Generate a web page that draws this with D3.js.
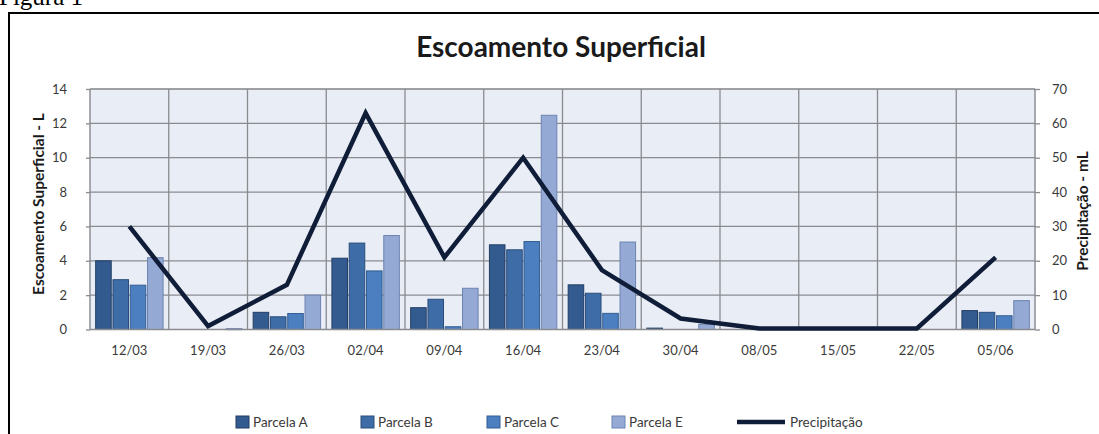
<!DOCTYPE html>
<html>
<head>
<meta charset="utf-8">
<script src="https://cdn.jsdelivr.net/npm/d3@7/dist/d3.min.js"></script>
<style>
  html, body { margin: 0; padding: 0; background: #fff; }
  svg { display: block; }
</style>
</head>
<body>
<div id="chart"></div>
<script>
  "use strict";

  var categories = ["12/03", "19/03", "26/03", "02/04", "09/04", "16/04", "23/04", "30/04", "08/05", "15/05", "22/05", "05/06"];
  var parcelaA = [4.0, 0, 1.0, 4.15, 1.27, 4.93, 2.6, 0.08, 0, 0, 0, 1.1];
  var parcelaB = [2.9, 0, 0.74, 5.03, 1.76, 4.64, 2.11, 0, 0, 0, 0, 1.0];
  var parcelaC = [2.58, 0, 0.93, 3.41, 0.16, 5.12, 0.94, 0, 0, 0, 0, 0.8];
  var parcelaE = [4.18, 0.05, 2.0, 5.47, 2.4, 12.47, 5.09, 0.3, 0, 0, 0, 1.68];
  var precipitacao = [30, 1, 13, 63, 21, 50, 17.3, 3.2, 0.3, 0.3, 0.3, 21];
  var leftTicks = [0, 2, 4, 6, 8, 10, 12, 14];
  var rightTicks = [0, 10, 20, 30, 40, 50, 60, 70];
  var seriesNames = ["Parcela A", "Parcela B", "Parcela C", "Parcela E"];
  var lineName = "Precipitação";

  var W = 1099, H = 434;
  var plot = { left: 90, right: 1035, top: 89, bottom: 329.5 };
  var FONT = "Lato, 'Open Sans', sans-serif";

  var colors = {
    "Parcela A": { fill: "#335b8f", stroke: "#223d63" },
    "Parcela B": { fill: "#3e6ca6", stroke: "#2a4d7c" },
    "Parcela C": { fill: "#4b7fc0", stroke: "#335d92" },
    "Parcela E": { fill: "#94aad5", stroke: "#6c83b2" }
  };
  var lineColor = "#101d38";

  var series = [parcelaA, parcelaB, parcelaC, parcelaE];

  var svg = d3.select("#chart").append("svg")
    .attr("width", W)
    .attr("height", H);

  // "Figura 1" caption, cut off at the top like the scan
  svg.append("text")
    .attr("x", -1)
    .attr("y", 5)
    .attr("font-family", "'Liberation Serif', serif")
    .attr("font-size", "25px")
    .attr("fill", "#000")
    .text("Figura 1");

  // outer frame
  svg.append("rect")
    .attr("x", 9)
    .attr("y", 13)
    .attr("width", W + 20)
    .attr("height", H + 20)
    .attr("fill", "none")
    .attr("stroke", "#000")
    .attr("stroke-width", 2);

  var x = d3.scaleBand()
    .domain(categories)
    .range([plot.left, plot.right])
    .paddingInner(0.1)
    .paddingOuter(0.05);

  var xInner = d3.scaleBand()
    .domain(seriesNames)
    .range([0, x.bandwidth()])
    .padding(0.1);

  var xCat = d3.scaleBand()
    .domain(categories)
    .range([plot.left, plot.right]);

  var yLeft = d3.scaleLinear().domain([0, 14]).range([plot.bottom, plot.top]);
  var yRight = d3.scaleLinear().domain([0, 70]).range([plot.bottom, plot.top]);

  // plot background
  svg.append("rect")
    .attr("x", plot.left)
    .attr("y", plot.top)
    .attr("width", plot.right - plot.left)
    .attr("height", plot.bottom - plot.top)
    .attr("fill", "#e9edf5")
    .attr("stroke", "#c6c9cf")
    .attr("stroke-width", 1);

  // horizontal grid
  svg.append("g")
    .selectAll("line")
    .data(leftTicks.slice(1))
    .enter().append("line")
    .attr("x1", plot.left)
    .attr("x2", plot.right)
    .attr("y1", function (d) { return yLeft(d); })
    .attr("y2", function (d) { return yLeft(d); })
    .attr("stroke", "#8a8b8f")
    .attr("stroke-width", 1.3);

  // vertical grid at category boundaries
  svg.append("g")
    .selectAll("line")
    .data(categories.slice(1).concat(["end"]))
    .enter().append("line")
    .attr("x1", function (d) { return d === "end" ? plot.right : xCat(d); })
    .attr("x2", function (d) { return d === "end" ? plot.right : xCat(d); })
    .attr("y1", plot.top)
    .attr("y2", plot.bottom)
    .attr("stroke", "#8a8b8f")
    .attr("stroke-width", 1.3);

  // bars
  var groups = svg.append("g")
    .selectAll("g")
    .data(categories)
    .enter().append("g")
    .attr("transform", function (d) { return "translate(" + x(d) + ",0)"; });

  groups.selectAll("rect")
    .data(function (d, i) {
      return seriesNames.map(function (name, s) { return { name: name, value: series[s][i] }; });
    })
    .enter().append("rect")
    .filter(function (d) { return d.value > 0; })
    .attr("x", function (d) { return xInner(d.name); })
    .attr("y", function (d) { return yLeft(d.value); })
    .attr("width", xInner.bandwidth())
    .attr("height", function (d) { return Math.max(1, yLeft(0) - yLeft(d.value)); })
    .attr("fill", function (d) { return colors[d.name].fill; })
    .attr("stroke", function (d) { return colors[d.name].stroke; })
    .attr("stroke-width", 1);

  // axis lines
  svg.append("line")
    .attr("x1", plot.left).attr("x2", plot.left)
    .attr("y1", plot.top).attr("y2", plot.bottom)
    .attr("stroke", "#8a8b8f").attr("stroke-width", 1.3);
  svg.append("line")
    .attr("x1", plot.left).attr("x2", plot.right)
    .attr("y1", plot.bottom).attr("y2", plot.bottom)
    .attr("stroke", "#8a8b8f").attr("stroke-width", 1.3);

  // precipitation line
  var line = d3.line()
    .x(function (d, i) { return xCat(categories[i]) + xCat.bandwidth() / 2; })
    .y(function (d) { return yRight(d); });

  svg.append("path")
    .datum(precipitacao)
    .attr("d", line)
    .attr("fill", "none")
    .attr("stroke", lineColor)
    .attr("stroke-width", 4.5)
    .attr("stroke-linejoin", "miter");

  // axes
  var leftAxis = svg.append("g")
    .attr("transform", "translate(" + plot.left + ",0)")
    .call(d3.axisLeft(yLeft).tickValues(leftTicks).tickSize(4).tickPadding(19));
  var rightAxis = svg.append("g")
    .attr("transform", "translate(" + plot.right + ",0)")
    .call(d3.axisRight(yRight).tickValues(rightTicks).tickSize(5).tickPadding(12));
  var bottomAxis = svg.append("g")
    .attr("transform", "translate(0," + plot.bottom + ")")
    .call(d3.axisBottom(xCat).tickSize(0).tickPadding(16));

  [leftAxis, rightAxis, bottomAxis].forEach(function (ax) {
    ax.select(".domain").remove();
    ax.selectAll(".tick line").attr("stroke", "#8a8b8f").attr("stroke-width", 1.3);
    ax.selectAll("text")
      .attr("font-family", FONT)
      .attr("font-size", "13px")
      .attr("fill", "#3a3a3a");
  });

  // title
  svg.append("text")
    .attr("x", 561)
    .attr("y", 57)
    .attr("text-anchor", "middle")
    .attr("font-family", FONT)
    .attr("font-weight", "bold")
    .attr("font-size", "28px")
    .attr("fill", "#1a1a1a")
    .text("Escoamento Superficial");

  // axis titles
  svg.append("text")
    .attr("transform", "translate(44,204) rotate(-90)")
    .attr("text-anchor", "middle")
    .attr("font-family", FONT)
    .attr("font-weight", "bold")
    .attr("font-size", "15.5px")
    .attr("fill", "#1a1a1a")
    .text("Escoamento Superficial - L");

  svg.append("text")
    .attr("transform", "translate(1088,211) rotate(-90)")
    .attr("text-anchor", "middle")
    .attr("font-family", FONT)
    .attr("font-weight", "bold")
    .attr("font-size", "15.5px")
    .attr("fill", "#1a1a1a")
    .text("Precipitação - mL");

  // legend
  var legendX = [236, 361, 487, 612];
  var legend = svg.append("g");
  seriesNames.forEach(function (name, i) {
    legend.append("rect")
      .attr("x", legendX[i])
      .attr("y", 416)
      .attr("width", 13)
      .attr("height", 12)
      .attr("fill", colors[name].fill)
      .attr("stroke", colors[name].stroke);
    legend.append("text")
      .attr("x", legendX[i] + 17)
      .attr("y", 427)
      .attr("font-family", FONT)
      .attr("font-size", "13.5px")
      .attr("fill", "#3a3a3a")
      .text(name);
  });
  legend.append("line")
    .attr("x1", 737).attr("x2", 785)
    .attr("y1", 422).attr("y2", 422)
    .attr("stroke", lineColor)
    .attr("stroke-width", 4.5);
  legend.append("text")
    .attr("x", 790)
    .attr("y", 427)
    .attr("font-family", FONT)
    .attr("font-size", "13.5px")
    .attr("fill", "#3a3a3a")
    .text(lineName);
</script>
</body>
</html>
